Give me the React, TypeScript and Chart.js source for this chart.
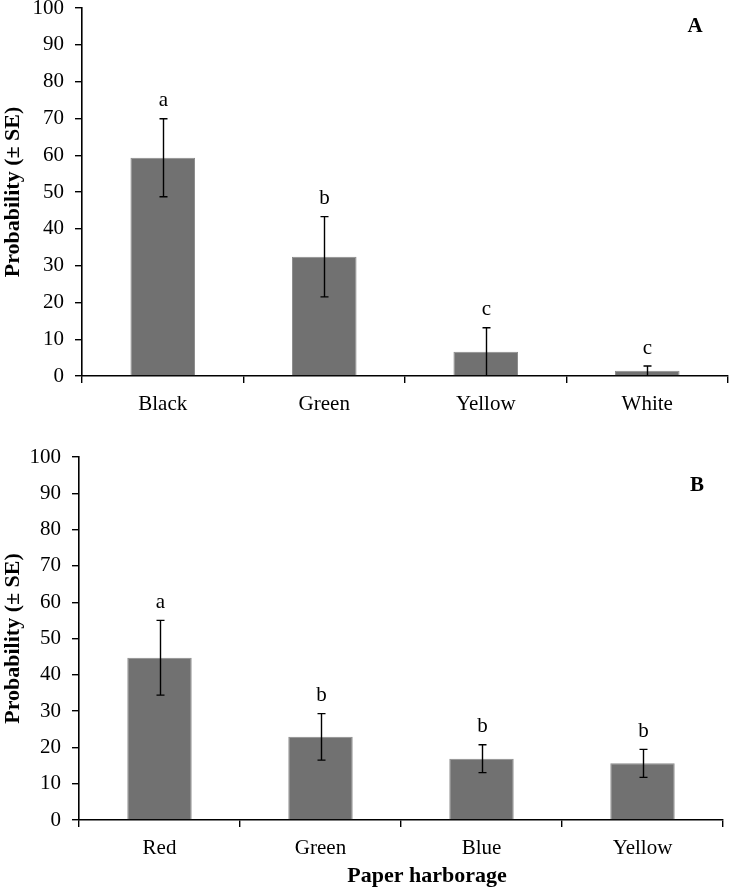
import React, { useEffect, useRef } from "react";
import { Chart, registerables } from "chart.js";

Chart.register(...registerables);

// ---- Data ----
const categoriesA = ["Black", "Green", "Yellow", "White"];
const valuesA = [59.3, 32.4, 6.6, 1.4];
const errorsA = [10.6, 10.9, 6.5, 1.3];
const lettersA = ["a", "b", "c", "c"];

const categoriesB = ["Red", "Green", "Blue", "Yellow"];
const valuesB = [44.7, 22.9, 16.9, 15.6];
const errorsB = [10.3, 6.4, 3.85, 3.85];
const lettersB = ["a", "b", "b", "b"];

const yMin = 0;
const yMax = 100;
const yStep = 10;

const yTitle = "Probability (\u00b1 SE)";
const xTitleB = "Paper harborage";

const FONT = "'Liberation Serif', 'Times New Roman', serif";
const BAR_COLOR = "#717171";

type PanelCfg = {
  categories: string[];
  values: number[];
  errors: number[];
  letters: string[];
  panel: string;
  panelYValue: number;
  panelRightOffset: number;
  xTitle?: string;
  height: number;
  padTop: number;
  padRight: number;
  yWidth: number;
  xHeight: number;
};

function makeAnnotPlugin(cfg: PanelCfg) {
  return {
    id: "annot",
    afterDatasetsDraw(chart: any) {
      const ctx = chart.ctx;
      const xs = chart.scales.x;
      const ys = chart.scales.y;
      ctx.save();
      ctx.strokeStyle = "#000";
      ctx.lineWidth = 1.4;
      ctx.fillStyle = "#000";
      ctx.font = `21px ${FONT}`;
      ctx.textAlign = "center";
      ctx.textBaseline = "middle";
      cfg.values.forEach((v, i) => {
        const cx = Math.round(xs.getPixelForValue(i)) + 0.5;
        const hiV = v + cfg.errors[i];
        const loV = Math.max(yMin, v - cfg.errors[i]);
        const hi = ys.getPixelForValue(hiV);
        const lo = ys.getPixelForValue(loV);
        ctx.beginPath();
        ctx.moveTo(cx, hi);
        ctx.lineTo(cx, lo);
        ctx.moveTo(cx - 4, hi);
        ctx.lineTo(cx + 4, hi);
        if (v - cfg.errors[i] > 0.5) {
          ctx.moveTo(cx - 4, lo);
          ctx.lineTo(cx + 4, lo);
        }
        ctx.stroke();
        ctx.fillText(cfg.letters[i], cx, hi - 18);
      });
      // panel label
      ctx.font = `bold 21px ${FONT}`;
      ctx.fillText(
        cfg.panel,
        chart.chartArea.right - cfg.panelRightOffset,
        ys.getPixelForValue(cfg.panelYValue)
      );
      if (cfg.xTitle) {
        ctx.font = `bold 22px ${FONT}`;
        const area = chart.chartArea;
        const cxT = (area.left + area.right) / 2 + 26;
        ctx.fillText(cfg.xTitle, cxT, chart.height - 11);
      }
      ctx.restore();
    },
  };
}

function Panel({ cfg }: { cfg: PanelCfg }) {
  const ref = useRef<HTMLCanvasElement | null>(null);
  useEffect(() => {
    if (!ref.current) return;
    const chart = new Chart(ref.current, {
      type: "bar",
      data: {
        labels: cfg.categories,
        datasets: [
          {
            data: cfg.values,
            backgroundColor: BAR_COLOR,
            borderColor: "#8a8a8a",
            borderWidth: 1,
            categoryPercentage: 1,
            barPercentage: 0.4,
          },
        ],
      },
      options: {
        responsive: false,
        animation: false,
        devicePixelRatio: 1,
        layout: { padding: { top: cfg.padTop, right: cfg.padRight, left: 0, bottom: 0 } },
        plugins: { legend: { display: false }, tooltip: { enabled: false } },
        scales: {
          x: {
            grid: {
              display: true,
              drawOnChartArea: false,
              drawTicks: true,
              tickLength: 7,
              color: "#000",
              lineWidth: 1.4,
              offset: true,
            },
            border: { display: true, color: "#000", width: 1.6 },
            ticks: {
              color: "#000",
              font: { family: FONT, size: 21 },
              padding: 9,
              maxRotation: 0,
            },
            afterFit: (s: any) => {
              s.height = cfg.xHeight;
              s.paddingLeft = 0;
              s.paddingRight = 0;
            },
          },
          y: {
            min: yMin,
            max: yMax,
            grid: {
              display: true,
              drawOnChartArea: false,
              drawTicks: true,
              tickLength: 7,
              color: "#000",
              lineWidth: 1.4,
            },
            border: { display: true, color: "#000", width: 1.6 },
            ticks: {
              stepSize: yStep,
              color: "#000",
              font: { family: FONT, size: 21 },
              padding: 11,
            },
            title: {
              display: true,
              text: yTitle,
              color: "#000",
              font: { family: FONT, size: 22, weight: "bold" },
              padding: 0,
            },
            afterFit: (s: any) => {
              s.width = cfg.yWidth;
              s.paddingTop = 0;
              s.paddingBottom = 0;
            },
          },
        },
      } as any,
      plugins: [makeAnnotPlugin(cfg)],
    });
    return () => chart.destroy();
  }, [cfg]);
  return (
    <canvas
      ref={ref}
      width={729}
      height={cfg.height}
      style={{ display: "block", width: 729, height: cfg.height }}
    />
  );
}

const cfgA: PanelCfg = {
  categories: categoriesA,
  values: valuesA,
  errors: errorsA,
  letters: lettersA,
  panel: "A",
  panelYValue: 95,
  panelRightOffset: 33,
  height: 420,
  padTop: 8,
  padRight: 1,
  yWidth: 82,
  xHeight: 44,
};

const cfgB: PanelCfg = {
  categories: categoriesB,
  values: valuesB,
  errors: errorsB,
  letters: lettersB,
  panel: "B",
  panelYValue: 92,
  panelRightOffset: 26,
  xTitle: xTitleB,
  height: 447,
  padTop: 17,
  padRight: 6,
  yWidth: 79,
  xHeight: 67,
};

export default function App() {
  return (
    <div style={{ position: "absolute", left: 0, top: 0, width: 729, height: 887, background: "#fff" }}>
      <div style={{ position: "absolute", left: 0, top: 0 }}>
        <Panel cfg={cfgA} />
      </div>
      <div style={{ position: "absolute", left: 0, top: 440 }}>
        <Panel cfg={cfgB} />
      </div>
    </div>
  );
}
